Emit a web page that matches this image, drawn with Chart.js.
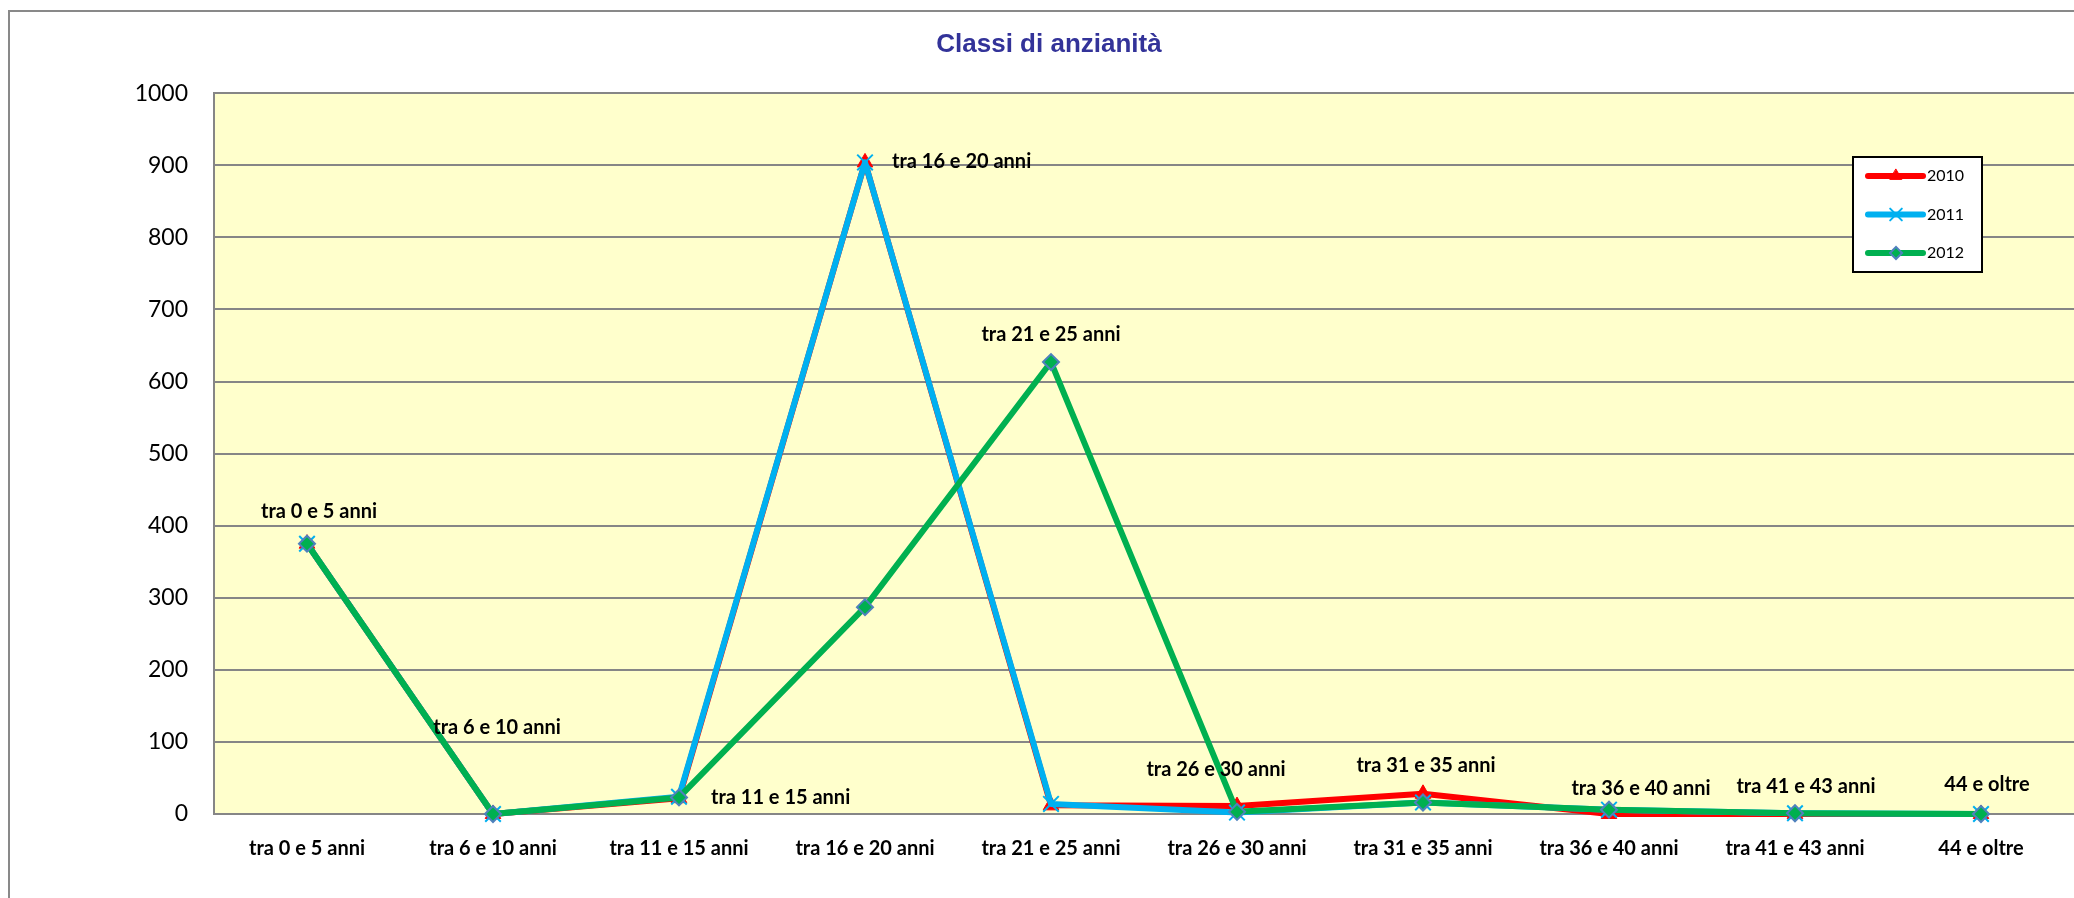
<!DOCTYPE html>
<html>
<head>
<meta charset="utf-8">
<title>Classi di anzianità</title>
<script src="https://cdn.jsdelivr.net/npm/chart.js@4/dist/chart.umd.min.js"></script>
<style>
  html, body { margin: 0; padding: 0; background: #fff; }
  canvas { display: block; }
</style>
</head>
<body>
<canvas id="anzianita" width="2074" height="898"></canvas>
<script>
const categories = [
  "tra 0 e 5 anni",
  "tra 6 e 10 anni",
  "tra 11 e 15 anni",
  "tra 16 e 20 anni",
  "tra 21 e 25 anni",
  "tra 26 e 30 anni",
  "tra 31 e 35 anni",
  "tra 36 e 40 anni",
  "tra 41 e 43 anni",
  "44 e oltre"
];
const years = ["2010", "2011", "2012"];
const values2010 = [375, 0, 22, 904, 12, 11, 28, 0, 0, 0];
const values2011 = [375, 0, 24, 904, 14, 2, 16, 6, 1, 0];
const values2012 = [375, 0, 23, 287, 627, 3, 16, 6, 1, 0];
const yTicks = [0, 100, 200, 300, 400, 500, 600, 700, 800, 900, 1000];

// where each category name sits next to its point (dataset, pixel offset, alignment)
const labelSpots = [
  {ds: 2, dx: 12, dy: -32, align: 'center'},
  {ds: 2, dx: 4, dy: -86, align: 'center'},
  {ds: 2, dx: 32, dy: 0, align: 'left'},
  {ds: 1, dx: 27, dy: -1, align: 'left'},
  {ds: 2, dx: 0, dy: -28, align: 'center'},
  {ds: 2, dx: -21, dy: -42, align: 'center'},
  {ds: 0, dx: 3, dy: -28, align: 'center'},
  {ds: 2, dx: 32, dy: -21, align: 'center'},
  {ds: 2, dx: 11, dy: -27, align: 'center'},
  {ds: 2, dx: 6, dy: -29, align: 'center'}
];

const red = '#ff0000';
const blue = '#00b0f0';
const green = '#00b050';
const gridGray = '#868686';

const sheetBackground = {
  id: 'sheetBackground',
  beforeDraw (chart) {
    const ctx = chart.ctx;
    const area = chart.chartArea;
    ctx.save();
    ctx.fillStyle = '#ffffff';
    ctx.fillRect(0, 0, chart.width, chart.height);
    ctx.strokeStyle = '#898989';
    ctx.lineWidth = 2;
    ctx.strokeRect(9, 11, chart.width + 50, chart.height + 50);
    ctx.fillStyle = '#ffffcc';
    ctx.fillRect(area.left, area.top, area.right - area.left, area.bottom - area.top);
    ctx.restore();
  }
};

const categoryLabels = {
  id: 'categoryLabels',
  afterDatasetsDraw (chart) {
    const ctx = chart.ctx;
    ctx.save();
    ctx.font = 'bold 20px Lato';
    ctx.fillStyle = '#000000';
    ctx.textBaseline = 'middle';
    labelSpots.forEach((spot, i) => {
      const pt = chart.getDatasetMeta(spot.ds).data[i];
      ctx.textAlign = spot.align;
      ctx.fillText(categories[i], pt.x + spot.dx, pt.y + spot.dy);
    });
    ctx.restore();
  }
};

const boxLegend = {
  id: 'boxLegend',
  afterDraw (chart) {
    const ctx = chart.ctx;
    const box = {x: 1853, y: 157, w: 129, h: 115};
    ctx.save();
    ctx.fillStyle = '#ffffff';
    ctx.fillRect(box.x, box.y, box.w, box.h);
    ctx.strokeStyle = '#000000';
    ctx.lineWidth = 2;
    ctx.strokeRect(box.x, box.y, box.w, box.h);
    chart.data.datasets.forEach((ds, i) => {
      const y = 176 + i * 38.5;
      ctx.strokeStyle = ds.borderColor;
      ctx.lineWidth = ds.borderWidth;
      ctx.lineCap = 'round';
      ctx.beginPath();
      ctx.moveTo(1868, y);
      ctx.lineTo(1923, y);
      ctx.stroke();
      ctx.fillStyle = ds.pointBackgroundColor;
      ctx.strokeStyle = ds.pointBorderColor;
      ctx.lineWidth = ds.pointBorderWidth;
      Chart.helpers.drawPoint(ctx, {
        pointStyle: ds.pointStyle,
        radius: ds.pointRadius * 0.75,
        borderWidth: ds.pointBorderWidth,
        rotation: 0
      }, 1896, y);
      ctx.fillStyle = '#000000';
      ctx.font = '16px Lato';
      ctx.textAlign = 'left';
      ctx.textBaseline = 'middle';
      ctx.fillText(ds.label, 1927, y);
    });
    ctx.restore();
  }
};

const data = {
  labels: categories,
  datasets: [{
    label: years[0],
    data: values2010,
    borderColor: red,
    borderWidth: 6,
    pointStyle: 'triangle',
    pointRadius: 9,
    pointBackgroundColor: red,
    pointBorderColor: red,
    pointBorderWidth: 1,
    clip: false,
    order: 3
  }, {
    label: years[1],
    data: values2011,
    borderColor: blue,
    borderWidth: 6,
    pointStyle: 'crossRot',
    pointRadius: 11,
    pointBackgroundColor: blue,
    pointBorderColor: blue,
    pointBorderWidth: 2,
    clip: false,
    order: 2
  }, {
    label: years[2],
    data: values2012,
    borderColor: green,
    borderWidth: 6,
    pointStyle: 'rectRot',
    pointRadius: 8,
    pointBackgroundColor: green,
    pointBorderColor: '#4f81bd',
    pointBorderWidth: 2,
    clip: false,
    order: 1
  }]
};

const config = {
  type: 'line',
  data: data,
  plugins: [sheetBackground, categoryLabels, boxLegend],
  options: {
    responsive: false,
    animation: false,
    devicePixelRatio: 1,
    layout: {
      autoPadding: false,
      padding: {left: 24, right: 0, top: 0, bottom: 0}
    },
    elements: {
      line: {tension: 0, borderCapStyle: 'round', borderJoinStyle: 'round', fill: false}
    },
    plugins: {
      legend: {display: false},
      tooltip: {enabled: false},
      title: {
        display: true,
        text: 'Classi di anzianità',
        color: '#333399',
        font: {family: 'Liberation Sans', size: 26, weight: 'bold', lineHeight: 1.2},
        padding: {top: 29, bottom: 33}
      }
    },
    scales: {
      x: {
        offset: true,
        grid: {display: false},
        border: {display: false},
        ticks: {
          color: '#000000',
          font: {family: 'Lato', size: 20, weight: 'bold'},
          padding: 15,
          maxRotation: 0,
          autoSkip: false
        },
        afterFit (scale) {
          scale.height = 84;
          scale.paddingLeft = 0;
          scale.paddingRight = 0;
        }
      },
      y: {
        min: 0,
        max: 1000,
        grid: {color: gridGray, lineWidth: 2, drawTicks: false},
        border: {display: true, color: gridGray, width: 2},
        ticks: {
          color: '#000000',
          font: {family: 'Lato', size: 23},
          padding: 26,
          callback: (value) => String(value)
        },
        afterBuildTicks (scale) {
          scale.ticks = yTicks.map(v => ({value: v}));
        },
        afterFit (scale) { scale.width = 190; }
      }
    }
  }
};

const anzianitaChart = new Chart(document.getElementById('anzianita'), config);
</script>
</body>
</html>
